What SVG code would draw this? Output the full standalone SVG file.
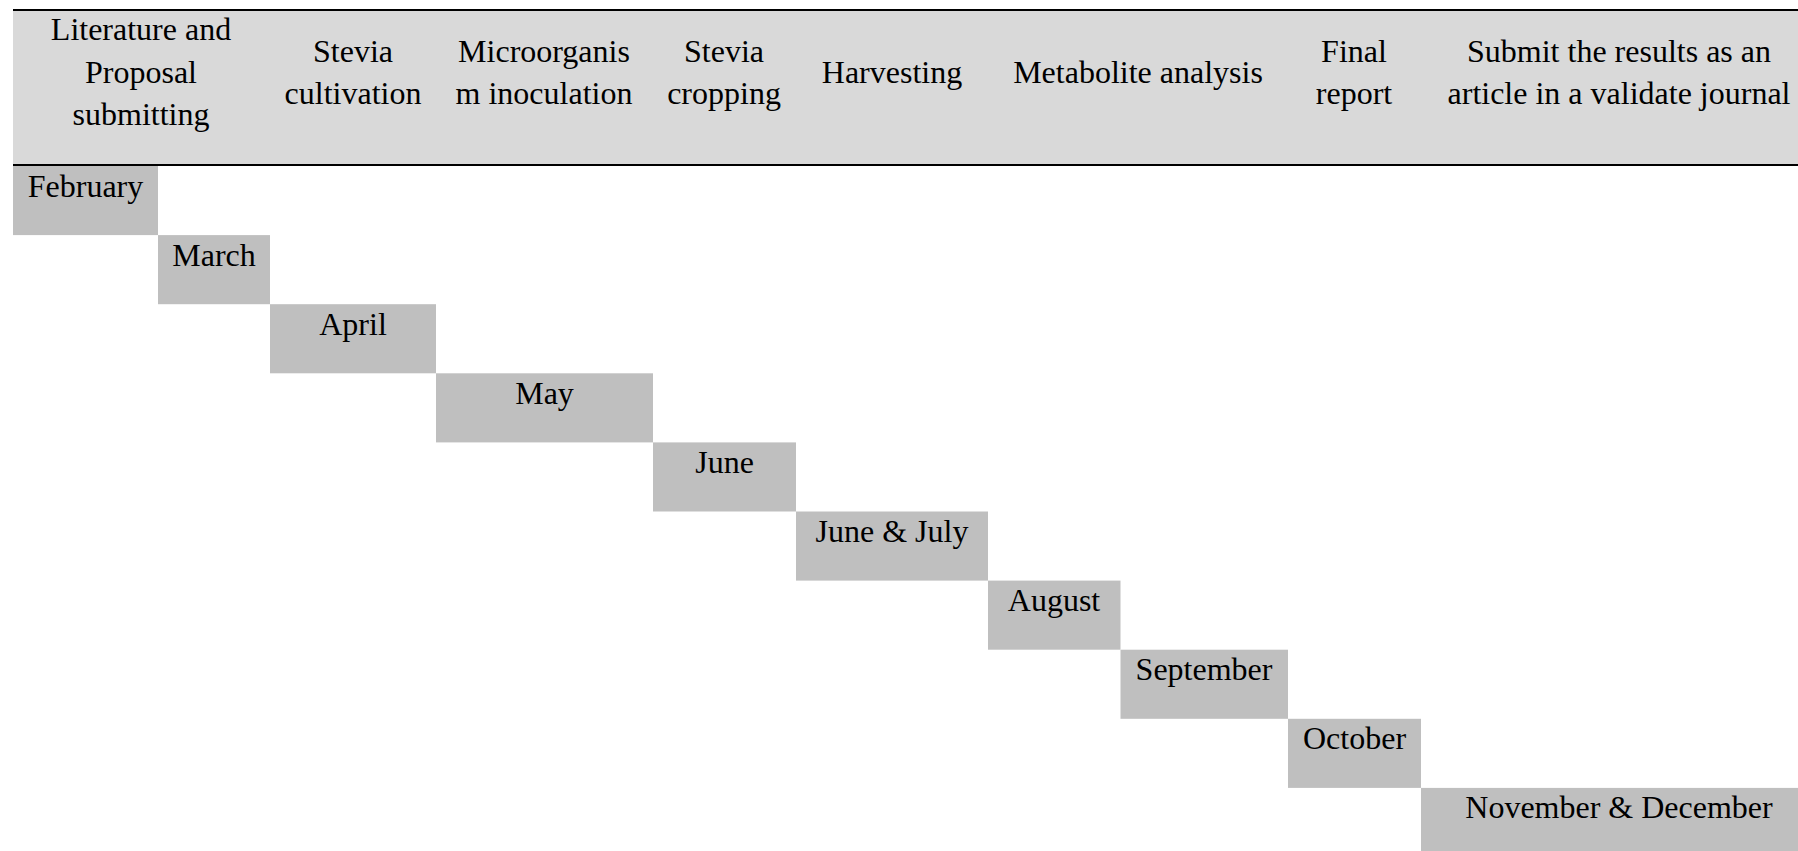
<svg xmlns="http://www.w3.org/2000/svg" width="1798" height="851" viewBox="0 0 1798 851">
<style>
.t{font-family:"Liberation Serif","Times New Roman",serif;font-size:32px;fill:#000;text-anchor:middle}
.hd{fill:#d9d9d9}
.bx{fill:#bfbfbf}
.rule{stroke:#000;stroke-width:2}
</style>
<rect x="0" y="0" width="1798" height="851" fill="#fff"/>
<g id="header">
<rect class="hd" x="13" y="10" width="1785" height="155"/>
<line class="rule" x1="13" y1="10" x2="1798" y2="10"/>
<line class="rule" x1="13" y1="165" x2="1798" y2="165"/>
</g>
<g id="h1"><text class="t" x="141" y="40">Literature and</text><text class="t" x="141" y="82.5">Proposal</text><text class="t" x="141" y="125">submitting</text></g>
<g id="h2"><text class="t" x="353" y="61.5">Stevia</text><text class="t" x="353" y="104">cultivation</text></g>
<g id="h3"><text class="t" x="544" y="61.5">Microorganis</text><text class="t" x="544" y="104">m inoculation</text></g>
<g id="h4"><text class="t" x="724" y="61.5">Stevia</text><text class="t" x="724" y="104">cropping</text></g>
<g id="h5"><text class="t" x="892" y="82.5">Harvesting</text></g>
<g id="h6"><text class="t" x="1138" y="82.5">Metabolite analysis</text></g>
<g id="h7"><text class="t" x="1354" y="61.5">Final</text><text class="t" x="1354" y="104">report</text></g>
<g id="h8"><text class="t" x="1619" y="61.5">Submit the results as an</text><text class="t" x="1619" y="104">article in a validate journal</text></g>
<g id="feb"><rect class="bx" x="13" y="166" width="145" height="69.1"/><text class="t" x="85.5" y="196.5">February</text></g>
<g id="mar"><rect class="bx" x="158" y="235.1" width="112" height="69.1"/><text class="t" x="214" y="265.6">March</text></g>
<g id="apr"><rect class="bx" x="270" y="304.2" width="166" height="69.1"/><text class="t" x="353" y="334.7">April</text></g>
<g id="may"><rect class="bx" x="436" y="373.3" width="217" height="69.1"/><text class="t" x="544.5" y="403.8">May</text></g>
<g id="jun"><rect class="bx" x="653" y="442.4" width="143" height="69.1"/><text class="t" x="724.5" y="472.9">June</text></g>
<g id="junjul"><rect class="bx" x="796" y="511.5" width="192" height="69.1"/><text class="t" x="892" y="542">June &amp; July</text></g>
<g id="aug"><rect class="bx" x="988" y="580.6" width="132.5" height="69.1"/><text class="t" x="1054" y="611.1">August</text></g>
<g id="sep"><rect class="bx" x="1120.5" y="649.7" width="167.5" height="69.1"/><text class="t" x="1204" y="680.2">September</text></g>
<g id="oct"><rect class="bx" x="1288" y="718.8" width="133" height="69.1"/><text class="t" x="1354.5" y="749.3">October</text></g>
<g id="novdec"><rect class="bx" x="1421" y="787.9" width="377" height="69.1"/><text class="t" x="1619" y="818.4">November &amp; December</text></g>
<g id="connectors"></g>
</svg>
